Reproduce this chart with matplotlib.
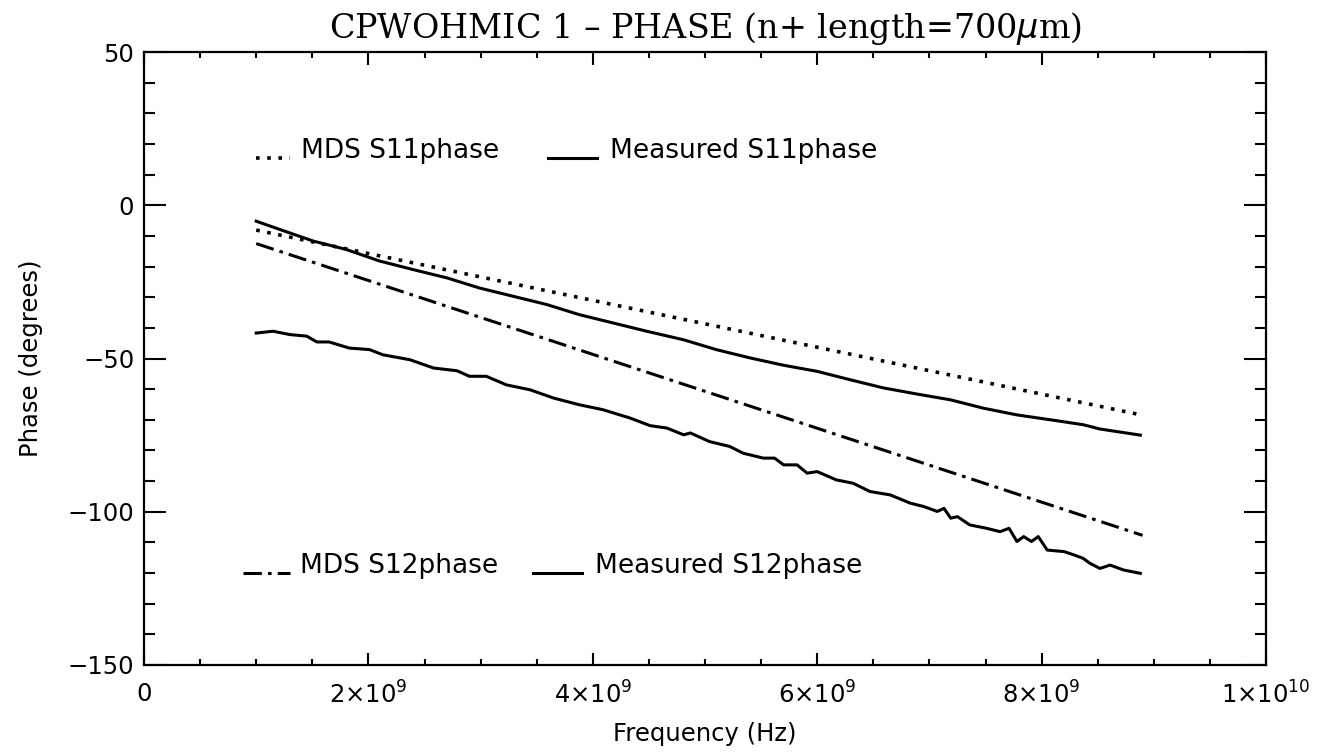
import matplotlib
matplotlib.use("Agg")
import matplotlib.pyplot as plt
from matplotlib.ticker import MultipleLocator, FixedLocator

# frequencies in units of 1e9 Hz, phase in degrees
mds_s11_f = [1.0, 8.9]
mds_s11 = [-8.1, -68.5]
mds_s12_f = [1.0, 8.9]
mds_s12 = [-12.5, -107.7]

meas_s11_f = [1.00, 1.21, 1.51, 1.80, 2.10, 2.40, 2.70, 2.99, 3.29, 3.59, 3.88, 4.18,
              4.48, 4.81, 5.10, 5.40, 5.70, 6.00, 6.29, 6.59, 6.89, 7.19, 7.48, 7.78,
              8.08, 8.37, 8.52, 8.70, 8.88]
meas_s11 = [-5.2, -7.9, -11.7, -14.4, -18.2, -21.0, -23.7, -27.0, -29.7, -32.4, -35.7, -38.4,
            -41.1, -43.9, -47.1, -49.8, -52.2, -54.2, -56.9, -59.6, -61.6, -63.5, -66.2, -68.4,
            -70.0, -71.6, -73.0, -74.0, -75.0]

meas_s12_f = [1.00, 1.15, 1.30, 1.45, 1.54, 1.65, 1.83, 2.01, 2.13, 2.37, 2.58, 2.79,
              2.90, 3.05, 3.23, 3.44, 3.65, 3.88, 4.09, 4.33, 4.51, 4.66, 4.81, 4.87,
              5.04, 5.22, 5.34, 5.52, 5.62, 5.70, 5.82, 5.91, 6.00, 6.17, 6.32, 6.47,
              6.65, 6.83, 6.95, 7.07, 7.13, 7.19, 7.25, 7.36, 7.51, 7.63, 7.71, 7.78,
              7.84, 7.91, 7.97, 8.05, 8.20, 8.29, 8.37, 8.43, 8.52, 8.61, 8.73, 8.88]
meas_s12 = [-41.7, -41.1, -42.2, -42.7, -44.6, -44.6, -46.6, -47.1, -48.8, -50.4, -53.1, -54.0,
            -55.8, -55.8, -58.6, -60.2, -62.9, -65.1, -66.7, -69.4, -71.9, -72.7, -74.9, -74.3,
            -77.1, -78.7, -80.9, -82.5, -82.5, -84.7, -84.7, -87.4, -86.9, -89.6, -90.7, -93.4,
            -94.5, -97.2, -98.3, -99.9, -98.9, -102.1, -101.6, -104.3, -105.4, -106.5, -105.4, -109.7,
            -108.1, -109.7, -108.1, -112.5, -113.0, -114.1, -115.2, -116.8, -118.5, -117.4, -119.0, -120.1]

xticks = [0, 2, 4, 6, 8, 10]
xticklabels = ['0', r'$2{\times}10^{9}$', r'$4{\times}10^{9}$', r'$6{\times}10^{9}$',
               r'$8{\times}10^{9}$', r'$1{\times}10^{10}$']
yticks = [-150, -100, -50, 0, 50]
yticklabels = ['\u2212150', '\u2212100', '\u221250', '0', '50']

G = 1e9
plt.rcParams['font.family'] = ['DejaVu Sans']
plt.rcParams['mathtext.fontset'] = 'dejavusans'

fig = plt.figure(figsize=(13.37, 7.55), dpi=100)
ax = fig.add_axes([144 / 1337, 1 - 665 / 755, (1266 - 144) / 1337, (665 - 52) / 755])

dot = (0, (1, 2.1))
dashdot = (0, (6, 2, 1.2, 2))
lw = 2.2

ax.plot([f * G for f in mds_s11_f], mds_s11, color='black', lw=2.6, ls=dot)
ax.plot([f * G for f in meas_s11_f], meas_s11, color='black', lw=lw)
ax.plot([f * G for f in mds_s12_f], mds_s12, color='black', lw=lw, ls=dashdot)
ax.plot([f * G for f in meas_s12_f], meas_s12, color='black', lw=lw)

# legend-style annotations
fs = 19
ax.plot([1.0 * G, 1.3 * G], [15.5, 15.5], color='black', lw=2.6, ls=dot)
ax.text(1.40 * G, 15.5, 'MDS S11phase', fontsize=fs, va='baseline')
ax.plot([3.6 * G, 4.04 * G], [15.5, 15.5], color='black', lw=lw)
ax.text(4.15 * G, 15.5, 'Measured S11phase', fontsize=fs, va='baseline')
ax.plot([0.88 * G, 1.30 * G], [-120, -120], color='black', lw=lw, ls=dashdot)
ax.text(1.39 * G, -120, 'MDS S12phase', fontsize=fs, va='baseline')
ax.plot([3.47 * G, 3.90 * G], [-120, -120], color='black', lw=lw)
ax.text(4.02 * G, -120, 'Measured S12phase', fontsize=fs, va='baseline')

ax.set_xlim(0, 10 * G)
ax.set_ylim(-150, 50)
ax.xaxis.set_major_locator(FixedLocator([t * G for t in xticks]))
ax.xaxis.set_minor_locator(MultipleLocator(0.5 * G))
ax.set_xticklabels(xticklabels)
ax.yaxis.set_major_locator(FixedLocator(yticks))
ax.yaxis.set_minor_locator(MultipleLocator(10))
ax.set_yticklabels(yticklabels)

ax.tick_params(axis='both', which='both', direction='in', top=True, right=True,
               labelsize=17.5, width=1.5, colors='black')
ax.tick_params(axis='x', which='major', length=9, pad=12)
ax.tick_params(axis='x', which='minor', length=4.5)
ax.tick_params(axis='y', which='major', length=16, pad=7)
ax.tick_params(axis='y', which='minor', length=8)
for sp in ax.spines.values():
    sp.set_linewidth(1.6)

ax.set_xlabel('Frequency (Hz)', fontsize=17.5)
ax.xaxis.set_label_coords(0.5, -0.093)
ax.set_ylabel('Phase (degrees)', fontsize=17.5)
ax.yaxis.set_label_coords(-0.09, 0.5)
ax.set_title('CPWOHMIC 1 \u2013 PHASE (n+ length=700$\\mu$m)', fontsize=24,
             fontfamily='DejaVu Serif', pad=10)

fig.savefig('out.png', dpi=100)
